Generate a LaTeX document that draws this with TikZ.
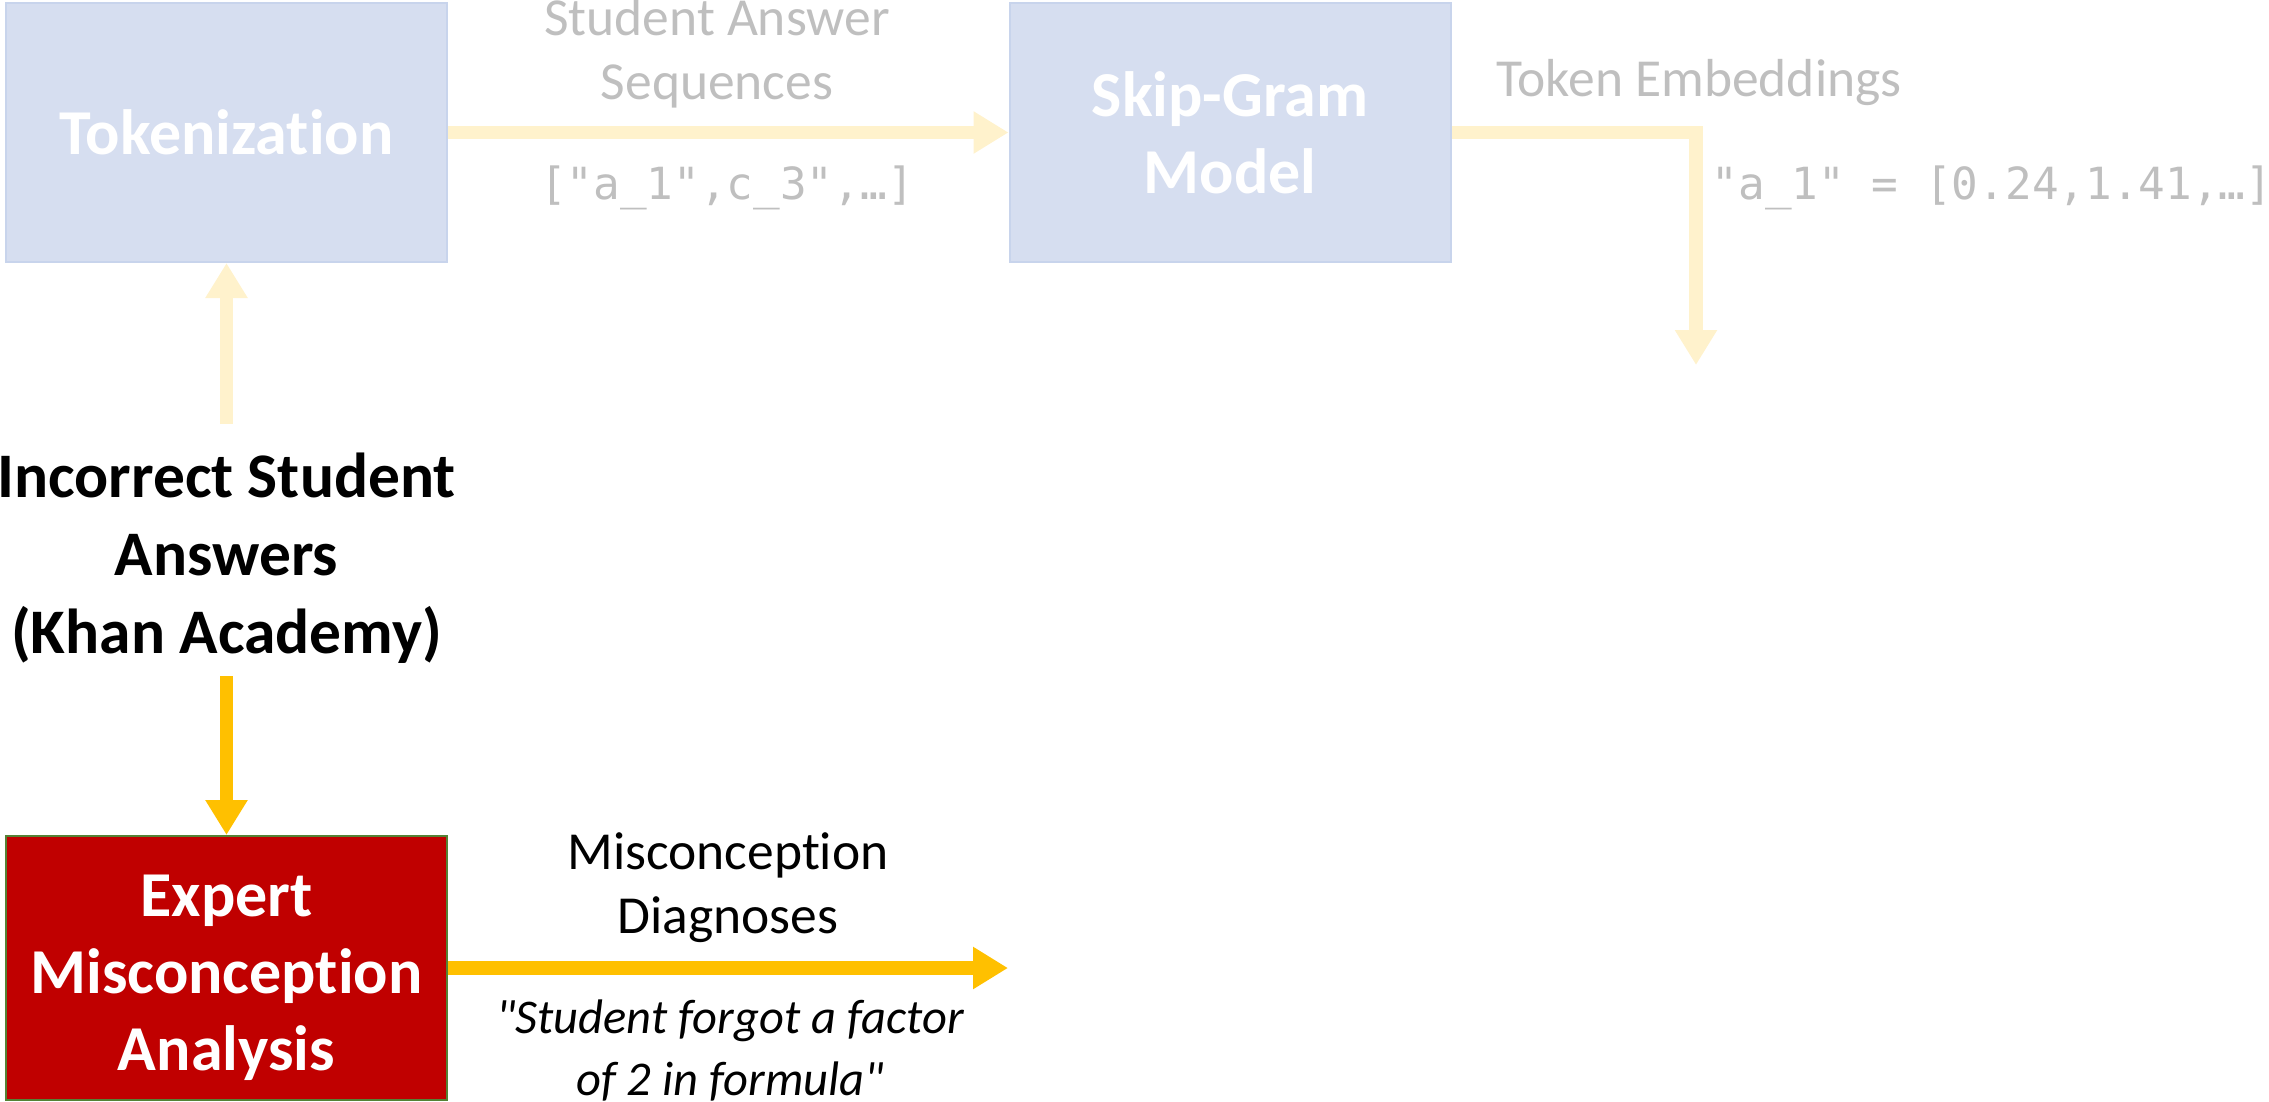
\documentclass[tikz,border=0pt]{standalone}
\usepackage{fontspec}
\setmainfont{Carlito}[Ligatures={TeXOff,NoCommon}]
\newfontfamily\monofont{DejaVu Sans Mono}
\usetikzlibrary{arrows.meta}

\definecolor{boxblue}{HTML}{D6DEF0}
\definecolor{boxblueline}{HTML}{C8D4EC}
\definecolor{paleyellow}{HTML}{FFF2CC}
\definecolor{goldline}{HTML}{FFC000}
\definecolor{fadegray}{HTML}{BFBFBF}
\definecolor{expertred}{HTML}{C00000}
\definecolor{expertedge}{HTML}{548235}

\begin{document}
\begin{tikzpicture}[x=1pt,y=-1pt,
  stagebox/.style={draw=boxblueline, line width=2pt, fill=boxblue,
    minimum width=441pt, minimum height=259pt, inner sep=0pt,
    align=center, text=white,
    font=\fontsize{64}{77}\selectfont\bfseries},
  expertbox/.style={stagebox, draw=expertedge, fill=expertred,
    minimum height=264pt},
  boxtext/.style={align=center, inner sep=0pt, text=white,
    font=\fontsize{64}{77}\selectfont\bfseries},
  flow/.style={line width=13.7pt, -{Triangle[width=40pt,length=35pt]}},
  lbl/.style={align=center, inner sep=0pt,
    font=\fontsize{53.5}{64}\selectfont},
  codelbl/.style={inner sep=0pt, text=fadegray,
    font=\fontsize{44.3}{54}\monofont}]

  \useasboundingbox (0,0) rectangle (2269,1102);

  % processing stages
  \node[stagebox] (tok) at (226.5,132.5) {Tokenization};
  \node[stagebox] (skip) at (1230,132.5) {Skip-Gram\\Model};
  \node[expertbox] (expert) at (226.5,968) {};
  \node[boxtext] (experttxt) at ([yshift=-10pt]expert.center)
        {Expert\\Misconception\\Analysis};

  % data source
  \node[align=center, inner sep=0pt,
        font=\fontsize{63.5}{78}\selectfont\bfseries] (src) at (226.5,558)
        {Incorrect Student\\Answers\\(Khan Academy)};

  \coordinate (srctop) at (226.5,424);
  \coordinate (srcbot) at (226.5,676);
  \coordinate (embend) at (1696,365);
  \coordinate (diagend) at (1008,968);

  % connectors
  \draw[flow, paleyellow] (srctop) -- (tok.south);
  \draw[flow, paleyellow] (tok.east) -- (skip.west);
  \draw[flow, paleyellow] (skip.east) -- (embend |- skip.east) -- (embend);
  \draw[flow, goldline] (srcbot) -- (expert.north);
  \draw[flow, goldline] (expert.east) -- (diagend);

  % connector labels
  \node[lbl, text=fadegray] (seqlbl) at (717,53) {Student Answer\\Sequences};
  \node[codelbl] (seqcode) at (727,188) {["a\_1",c\_3",…]};
  \node[lbl, text=fadegray] (emblbl) at (1699,83) {Token Embeddings};
  \node[codelbl] (embcode) at (1992,188) {"a\_1" = [0.24,1.41,…]};
  \node[lbl] (diaglbl) at (728,888) {Misconception\\Diagnoses};
  \node[lbl, font=\fontsize{48.5}{62}\selectfont\itshape] (diagex) at (730,1050)
        {"Student forgot a factor\\of 2 in formula"};
\end{tikzpicture}
\end{document}
